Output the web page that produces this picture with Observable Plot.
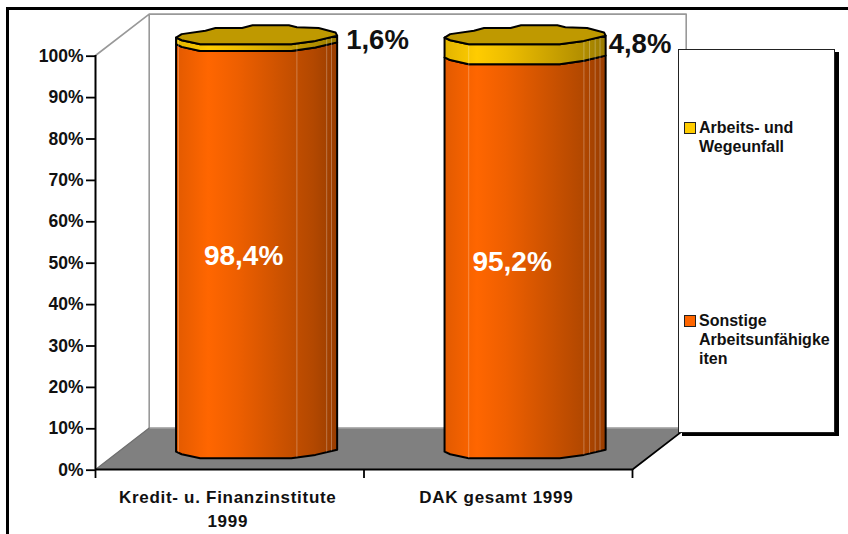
<!DOCTYPE html>
<html lang="de">
<head>
<meta charset="utf-8">
<script src="https://cdn.jsdelivr.net/npm/d3@7"></script>
<script src="https://cdn.jsdelivr.net/npm/@observablehq/plot@0.6"></script>
<style>
  html, body { margin: 0; padding: 0; background: #fff; }
  #chart { position: relative; width: 848px; height: 534px; overflow: hidden; font-family: "Liberation Sans", Arial, sans-serif; }
  #chart svg { position: absolute; left: 0; top: 0; }
  #frameTop { position: absolute; left: 6px; top: 7px; right: 0; height: 3px; background: #000; }
  #frameLeft { position: absolute; left: 6px; top: 7px; bottom: 0; width: 3px; background: #000; }
  #legend { position: absolute; left: 678px; top: 49px; width: 155px; height: 382px; background: #fff; border: 1px solid #222; box-shadow: 4px 3px 0 #000; }
  .entry { position: absolute; left: 5px; font-weight: bold; font-size: 16px; line-height: 18.8px; color: #111; }
  .entry i { position: absolute; left: 0; top: 3px; width: 10px; height: 10px; border: 1px solid #222; }
  .entry span { display: block; margin-left: 15px; width: 140px; white-space: pre; }
  .catlabels text { letter-spacing: 0.7px; }
</style>
</head>
<body>
<div id="chart">
  <div id="plot"></div>
  <div id="frameTop"></div>
  <div id="frameLeft"></div>
  <div id="legend"></div>
</div>
<script>
// Data
const categories = ["Kredit- u. Finanzinstitute\n1999", "DAK gesamt 1999"];
const sonstige = [98.4, 95.2];
const unfall = [1.6, 4.8];
const sonstigeLabels = ["98,4%", "95,2%"];
const unfallLabels = ["1,6%", "4,8%"];
const seriesNames = ["Arbeits- und\nWegeunfall", "Sonstige\nArbeitsunfähigke\niten"];
const yTicks = [0, 10, 20, 30, 40, 50, 60, 70, 80, 90, 100];

// Wobbly rim outline of the cylinders (unit ellipse)
const frontU = [-1, -0.93, -0.70, 0.43, 0.73, 1];
const frontV = [0.29, 0.57, 1, 1, 0.64, 0.1];
const backU = [1, 0.98, 0.77, 0.5, 0.40, -0.05, -0.18, -0.51, -0.635, -0.93, -1];
const backV = [0.1, -0.25, -0.71, -0.79, -1, -1, -0.71, -0.71, -0.43, -0.07, 0.29];
// Thin light seams on each cylinder
const seams = [[-0.97, 0.5, 0.87, 0.93], [-0.7, 0.73, 0.8, 0.87, 0.93]];

// Colours
const orange = "#FF6600", yellow = "#FFCC00", capColor = "#BF9900", floorColor = "#808080", wallColor = "#999999";

// 3-D construction in data units
const depthX = 0.2, depthY = 10;            // box depth
const rx = 0.3, ry = 2.3;                   // cylinder radii
const cx = i => i + 0.5 + depthX / 2;
const cy = v => v + depthY / 2;
const rimAt = d3.scaleLinear().domain(frontU).range(frontV);

const front = (i, v) => frontU.map((u, k) => ({x: cx(i) + u * rx, y: cy(v) - frontV[k] * ry}));
const back = (i, v) => backU.map((u, k) => ({x: cx(i) + u * rx, y: cy(v) - backV[k] * ry}));
const band = (i, v0, v1) => { const a = front(i, v0), b = front(i, v1).reverse(); return [...a, ...b, a[0]]; };
const cap = (i, v) => { const a = front(i, v), b = back(i, v); return [...a, ...b]; };

function gradients() {
  const defs = d3.create("svg:defs");
  const add = (id, stops) => {
    const g = defs.append("linearGradient").attr("id", id).attr("x1", 0).attr("x2", 1).attr("y1", 0).attr("y2", 0);
    stops.forEach(([o, c]) => g.append("stop").attr("offset", o).attr("stop-color", c));
  };
  add("gradOrange", [[0, "#E25A00"], [0.2, orange], [0.38, "#EE5F00"], [0.65, "#CC5200"], [0.85, "#B34800"], [1, "#993D00"]]);
  add("gradYellow", [[0, "#E2B400"], [0.2, yellow], [0.38, "#EEBE00"], [0.65, "#CCA300"], [0.85, "#B38F00"], [1, "#997A00"]]);
  return defs.node();
}

const poly = (pts, fill, extra = {}) => Plot.line(pts, {x: "x", y: "y", fill, stroke: "#000", strokeWidth: 2, strokeLinejoin: "round", ...extra});
const line = (pts, stroke, strokeWidth) => Plot.line(pts, {x: "x", y: "y", stroke, strokeWidth});

const xMax = categories.length, yMax = 100;
const marks = [
  gradients,
  // floor and walls
  poly([{x: 0, y: 0}, {x: xMax, y: 0}, {x: xMax + depthX, y: depthY}, {x: depthX, y: depthY}, {x: 0, y: 0}], floorColor, {stroke: "none"}),
  line([{x: 0, y: yMax}, {x: depthX, y: yMax + depthY}, {x: xMax + depthX, y: yMax + depthY}, {x: xMax + depthX, y: depthY}, {x: depthX, y: depthY}, {x: depthX, y: yMax + depthY}], wallColor, 1.6),
  line([{x: 0, y: 0}, {x: depthX, y: depthY}], "#6e6e6e", 1.2),
  line([{x: xMax, y: 0}, {x: xMax + depthX, y: depthY}], "#000", 1.8),
  // cylinders
  ...categories.flatMap((_, i) => {
    const split = sonstige[i], top = sonstige[i] + unfall[i];
    const seamData = seams[i].map(u => ({u}));
    return [
      poly(band(i, 0, split), "url(#gradOrange)"),
      poly(band(i, split, top), "url(#gradYellow)"),
      Plot.ruleX(seamData, {
        x: d => cx(i) + d.u * rx,
        y1: d => cy(0) - rimAt(d.u) * ry,
        y2: d => cy(top) - rimAt(d.u) * ry,
        stroke: "#fff", strokeOpacity: 0.28, strokeWidth: 1
      }),
      poly(cap(i, top), capColor)
    ];
  }),
  // axes
  Plot.ruleY([0], {x1: 0, x2: xMax, stroke: "#000", strokeWidth: 2}),
  Plot.ruleX([0], {y1: 0, y2: yMax, stroke: "#000", strokeWidth: 2}),
  Plot.axisY({ticks: yTicks, tickFormat: d => d + "%", tickSize: 9, tickPadding: 3, dy: 0.7, fontSize: 17.5, fontWeight: "bold", stroke: "#000", strokeWidth: 1.8, color: "#111", label: null}),
  Plot.axisX({ticks: d3.range(xMax + 1), tickFormat: () => "", tickSize: 9, stroke: "#000", strokeWidth: 1.8, label: null}),
  // category labels
  Plot.text(categories, {x: (_, i) => i + 0.5, y: 0, text: d => d, dy: 16.5, dx: -2, lineAnchor: "top", lineHeight: 1.41, fontSize: 17, fontWeight: "bold", fill: "#111", className: "catlabels"}),
  // value labels
  Plot.text(sonstige, {x: (_, i) => cx(i), y: d => d / 2, text: (_, i) => sonstigeLabels[i], dx: -13, dy: -10, fontSize: 28, fontWeight: "bold", fill: "#fff"}),
  Plot.text([unfall[0]], {x: cx(0) + rx, y: yMax, text: () => unfallLabels[0], textAnchor: "start", dx: 9, dy: -15, fontSize: 27.5, fontWeight: "bold", fill: "#111"}),
  Plot.text([unfall[1]], {x: cx(1) + rx, y: yMax, text: () => unfallLabels[1], textAnchor: "start", dx: 3, dy: -11, fontSize: 27.5, fontWeight: "bold", fill: "#111"})
];

const chart = Plot.plot({
  width: 848, height: 534,
  marginTop: 55, marginRight: 216, marginBottom: 65, marginLeft: 95,
  style: {background: "transparent", fontFamily: '"Liberation Sans", Arial, sans-serif', overflow: "visible"},
  x: {domain: [0, xMax], axis: null},
  y: {domain: [0, yMax], axis: null},
  marks
});
document.getElementById("plot").append(chart);

// Legend (overlaid on the right, with a hard black shadow)
const legend = d3.select("#legend");
[[yellow, 69], [orange, 262]].forEach(([color, top], i) => {
  const e = legend.append("div").attr("class", "entry").style("top", top + "px");
  e.append("i").style("background", color);
  e.append("span").text(seriesNames[i]);
});
</script>
</body>
</html>
